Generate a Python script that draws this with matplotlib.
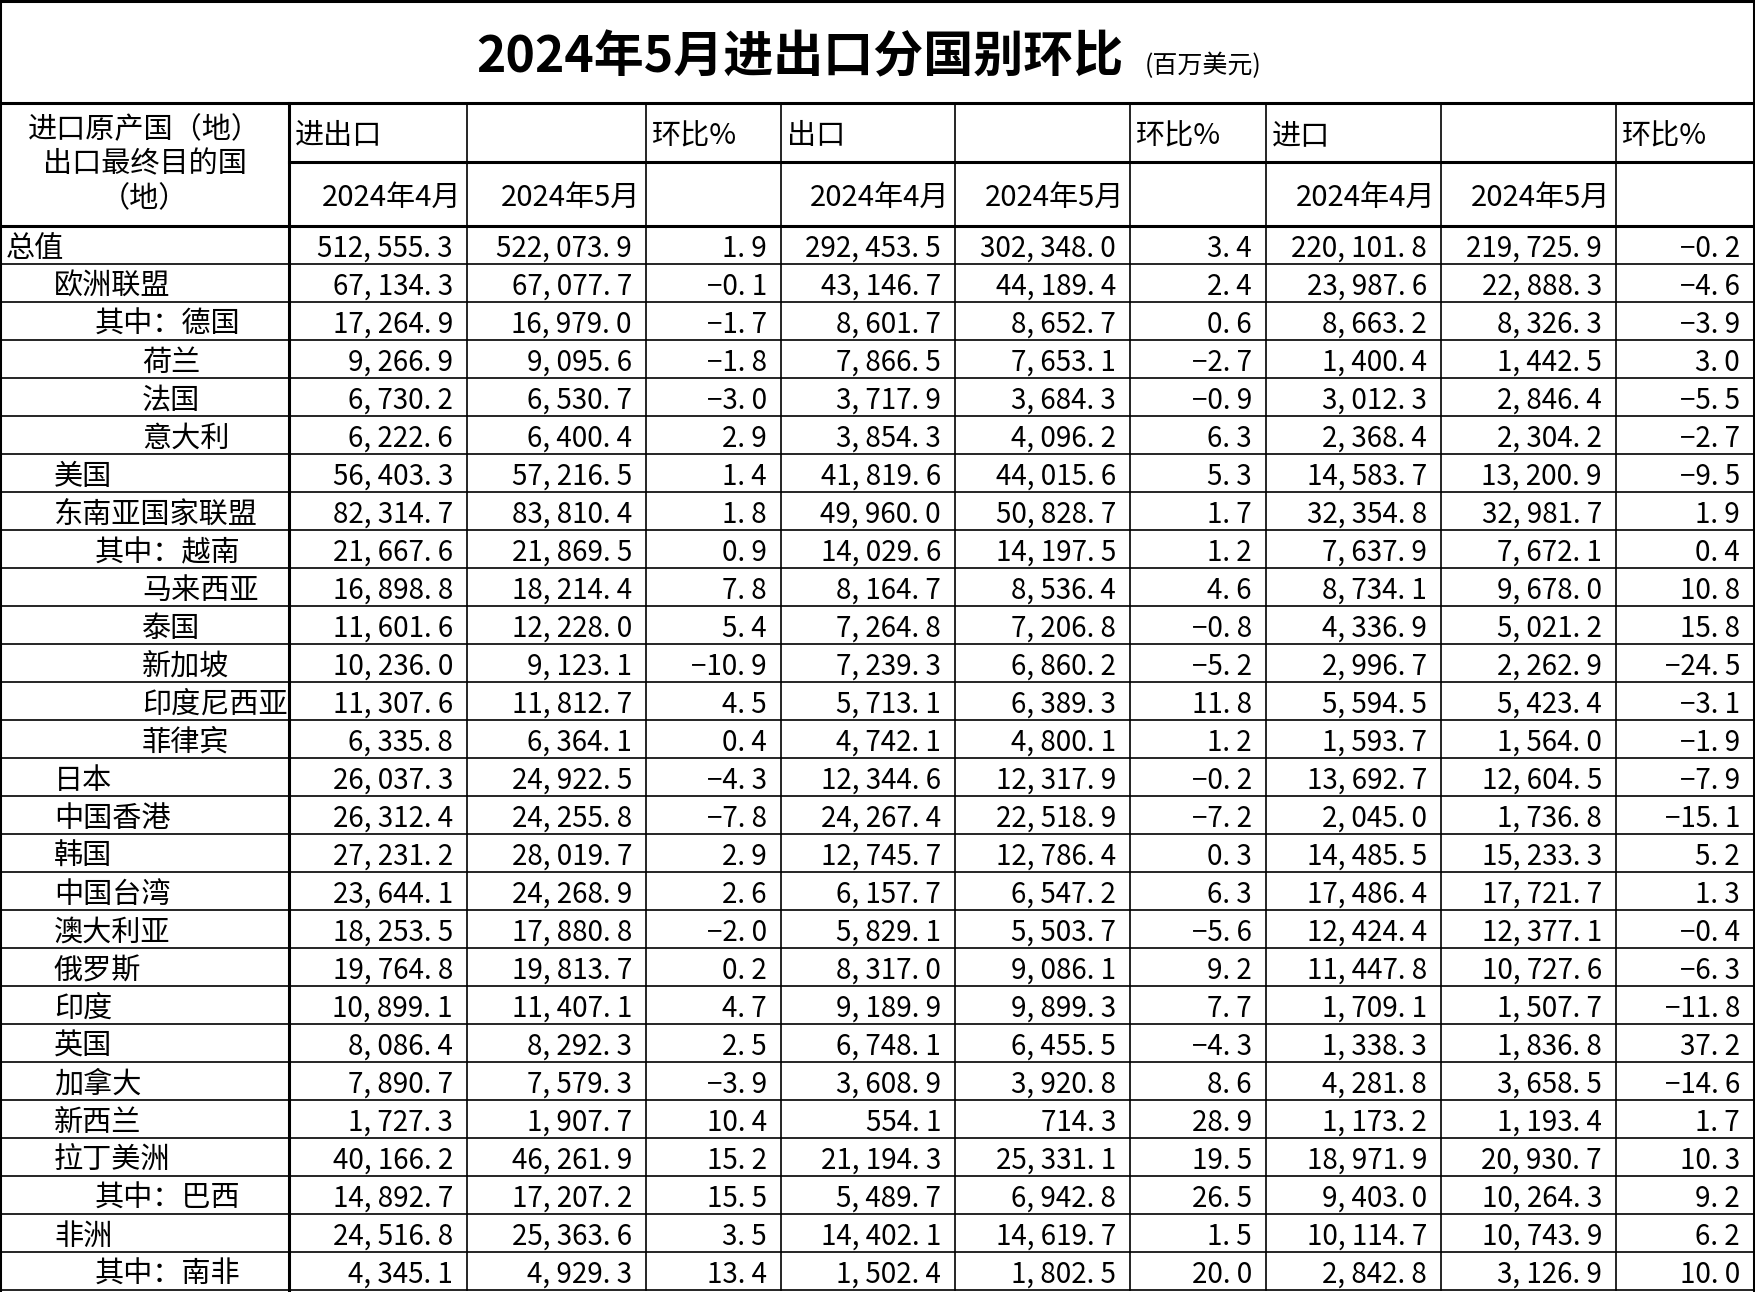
import matplotlib.pyplot as plt

plt.rcParams['font.family'] = ['Noto Sans CJK SC', 'DejaVu Sans']

# data
names = ['总值', '欧洲联盟', '其中：德国', '荷兰', '法国', '意大利', '美国', '东南亚国家联盟',
         '其中：越南', '马来西亚', '泰国', '新加坡', '印度尼西亚', '菲律宾', '日本', '中国香港',
         '韩国', '中国台湾', '澳大利亚', '俄罗斯', '印度', '英国', '加拿大', '新西兰', '拉丁美洲',
         '其中：巴西', '非洲', '其中：南非']
levels = [0, 1, 2, 3, 3, 3, 1, 1, 2, 3, 3, 3, 3, 3, 1, 1, 1, 1, 1, 1, 1, 1, 1, 1, 1, 2, 1, 2]
total_apr = [512555.3, 67134.3, 17264.9, 9266.9, 6730.2, 6222.6, 56403.3, 82314.7, 21667.6, 16898.8,
             11601.6, 10236.0, 11307.6, 6335.8, 26037.3, 26312.4, 27231.2, 23644.1, 18253.5, 19764.8,
             10899.1, 8086.4, 7890.7, 1727.3, 40166.2, 14892.7, 24516.8, 4345.1]
total_may = [522073.9, 67077.7, 16979.0, 9095.6, 6530.7, 6400.4, 57216.5, 83810.4, 21869.5, 18214.4,
             12228.0, 9123.1, 11812.7, 6364.1, 24922.5, 24255.8, 28019.7, 24268.9, 17880.8, 19813.7,
             11407.1, 8292.3, 7579.3, 1907.7, 46261.9, 17207.2, 25363.6, 4929.3]
total_mom = [1.9, -0.1, -1.7, -1.8, -3.0, 2.9, 1.4, 1.8, 0.9, 7.8, 5.4, -10.9, 4.5, 0.4, -4.3, -7.8,
             2.9, 2.6, -2.0, 0.2, 4.7, 2.5, -3.9, 10.4, 15.2, 15.5, 3.5, 13.4]
exp_apr = [292453.5, 43146.7, 8601.7, 7866.5, 3717.9, 3854.3, 41819.6, 49960.0, 14029.6, 8164.7,
           7264.8, 7239.3, 5713.1, 4742.1, 12344.6, 24267.4, 12745.7, 6157.7, 5829.1, 8317.0,
           9189.9, 6748.1, 3608.9, 554.1, 21194.3, 5489.7, 14402.1, 1502.4]
exp_may = [302348.0, 44189.4, 8652.7, 7653.1, 3684.3, 4096.2, 44015.6, 50828.7, 14197.5, 8536.4,
           7206.8, 6860.2, 6389.3, 4800.1, 12317.9, 22518.9, 12786.4, 6547.2, 5503.7, 9086.1,
           9899.3, 6455.5, 3920.8, 714.3, 25331.1, 6942.8, 14619.7, 1802.5]
exp_mom = [3.4, 2.4, 0.6, -2.7, -0.9, 6.3, 5.3, 1.7, 1.2, 4.6, -0.8, -5.2, 11.8, 1.2, -0.2, -7.2,
           0.3, 6.3, -5.6, 9.2, 7.7, -4.3, 8.6, 28.9, 19.5, 26.5, 1.5, 20.0]
imp_apr = [220101.8, 23987.6, 8663.2, 1400.4, 3012.3, 2368.4, 14583.7, 32354.8, 7637.9, 8734.1,
           4336.9, 2996.7, 5594.5, 1593.7, 13692.7, 2045.0, 14485.5, 17486.4, 12424.4, 11447.8,
           1709.1, 1338.3, 4281.8, 1173.2, 18971.9, 9403.0, 10114.7, 2842.8]
imp_may = [219725.9, 22888.3, 8326.3, 1442.5, 2846.4, 2304.2, 13200.9, 32981.7, 7672.1, 9678.0,
           5021.2, 2262.9, 5423.4, 1564.0, 12604.5, 1736.8, 15233.3, 17721.7, 12377.1, 10727.6,
           1507.7, 1836.8, 3658.5, 1193.4, 20930.7, 10264.3, 10743.9, 3126.9]
imp_mom = [-0.2, -4.6, -3.9, 3.0, -5.5, -2.7, -9.5, 1.9, 0.4, 10.8, 15.8, -24.5, -3.1, -1.9, -7.9,
           -15.1, 5.2, 1.3, -0.4, -6.3, -11.8, 37.2, -14.6, 1.7, 10.3, 9.2, 6.2, 10.0]

W, H = 1756, 1292
col_x = [0, 289, 467, 646, 781, 955, 1130, 1266, 1441, 1616, 1754]
y_title, y_h1, y_h2 = 103, 162, 226
row_h = (1290 - y_h2) / len(names)
indent = {0: 6, 1: 54, 2: 95, 3: 142}

fig = plt.figure(figsize=(W / 100, H / 100), dpi=100)
ax = fig.add_axes([0, 0, 1, 1])
ax.set_xlim(0, W)
ax.set_ylim(H, 0)
ax.axis('off')

fs = 21
nfs = 20
thick, thin = 2.2, 1.2

# title
ax.text(800, y_title / 2 + 6, '2024年5月进出口分国别环比', fontsize=36, fontweight='semibold',
        ha='center', va='center')
ax.text(1145, y_title / 2 + 14, '(百万美元)', fontsize=18, ha='left', va='center')

# header
ax.text(col_x[1] / 2, (y_title + y_h2) / 2, '进口原产国（地）\n出口最终目的国\n（地）', fontsize=fs,
        ha='center', va='center', linespacing=1.2)
for i, lab in enumerate(['进出口', '出口', '进口']):
    c = 1 + 3 * i
    ax.text(col_x[c] + 6, (y_title + y_h1) / 2 + 4, lab, fontsize=fs, ha='left', va='center')
    ax.text(col_x[c + 2] + 6, (y_title + y_h1) / 2 + 4, '环比%', fontsize=fs, ha='left', va='center')
    ax.text(col_x[c + 1] - 6, (y_h1 + y_h2) / 2 + 4, '2024年4月', fontsize=fs, ha='right', va='center')
    ax.text(col_x[c + 2] - 6, (y_h1 + y_h2) / 2 + 4, '2024年5月', fontsize=fs, ha='right', va='center')

# body
cols = [total_apr, total_may, total_mom, exp_apr, exp_may, exp_mom, imp_apr, imp_may, imp_mom]
for r, name in enumerate(names):
    yc = y_h2 + (r + 0.5) * row_h + 4
    ax.text(indent[levels[r]], yc, name, fontsize=fs, ha='left', va='center')
    for c, vals in enumerate(cols):
        v = vals[r]
        s = f'{v:.1f}' if c % 3 == 2 else f'{v:,.1f}'
        s = s.replace('-', '−').replace(',', ', ').replace('.', '. ')
        ax.text(col_x[c + 2] - 14, yc, s, fontsize=nfs, ha='right', va='center')
    ax.plot([0, col_x[-1]], [y_h2 + (r + 1) * row_h] * 2, color='black', lw=thin)

# grid lines
ax.plot([0, col_x[-1]], [1, 1], color='black', lw=thick)
ax.plot([0, col_x[-1]], [y_title, y_title], color='black', lw=thick)
ax.plot([col_x[1], col_x[-1]], [y_h1, y_h1], color='black', lw=thick)
ax.plot([0, col_x[-1]], [y_h2, y_h2], color='black', lw=thick)
for x in col_x:
    top = 0 if x in (col_x[0], col_x[-1]) else y_title
    ax.plot([x, x], [top, 1290], color='black', lw=thick if x in (col_x[0], col_x[1], col_x[-1]) else thin)

fig.savefig('out.png', dpi=100)
